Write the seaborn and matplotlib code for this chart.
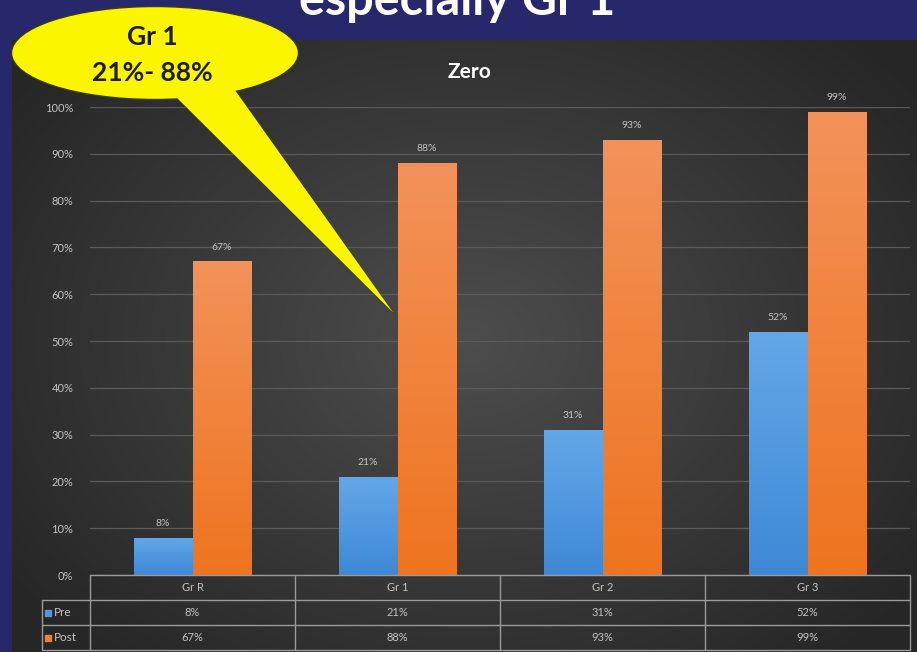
import numpy as np
import pandas as pd
import matplotlib
matplotlib.use("Agg")
import matplotlib.pyplot as plt
import seaborn as sns
from matplotlib.patches import Ellipse, Polygon
from matplotlib.colors import LinearSegmentedColormap

# ---- data ----
groups = ["Gr R", "Gr 1", "Gr 2", "Gr 3"]
series = ["Pre", "Post"]
pre = [0.08, 0.21, 0.31, 0.52]
post = [0.67, 0.88, 0.93, 0.99]
yticks = [0.0, 0.1, 0.2, 0.3, 0.4, 0.5, 0.6, 0.7, 0.8, 0.9, 1.0]
chart_title = "Zero"
slide_title = "especially Gr 1"
callout_lines = ["Gr 1", "21%- 88%"]

# ---- style ----
NAVY = "#27276b"
BLUE = "#4d97e0"
ORANGE = "#f07f35"
TEXT = "#c4c4c4"
GRID = "#5b5b5b"
TABLE_LINE = "#9a9a9a"

sns.set_theme(style="dark")
plt.rcParams["font.family"] = ["Lato", "DejaVu Sans"]

W, H = 917, 652
fig = plt.figure(figsize=(W / 100, H / 100), dpi=100, facecolor=NAVY)


def fx(px):
    return px / W


def fy(py):
    return 1 - py / H


# dark panel with a soft radial glow
panel = fig.add_axes([fx(12), 0, 1 - fx(12), fy(40)])
pw, ph = W - 12, H - 40
gx, gy = np.meshgrid(np.arange(pw), np.arange(ph))
d = np.sqrt(((gx - 455) / 560.0) ** 2 + ((gy - 300) / 430.0) ** 2)
d = np.clip(d, 0, 1)
c_in = np.array([0x4d, 0x4d, 0x4d]) / 255
c_out = np.array([0x26, 0x26, 0x26]) / 255
img = c_in[None, None, :] * (1 - d[..., None]) + c_out[None, None, :] * d[..., None]
panel.imshow(img, aspect="auto", interpolation="bilinear")
panel.set_axis_off()

# main chart axes (0%..100% spans y=575..107 px, categories span x=90..910 px)
ax = fig.add_axes([fx(90), fy(575), fx(910) - fx(90), fy(107) - fy(575)])
ax.set_facecolor("none")

df = pd.DataFrame({
    "group": groups * 2,
    "series": [series[0]] * len(groups) + [series[1]] * len(groups),
    "value": pre + post,
})
sns.barplot(data=df, x="group", y="value", hue="series", order=groups,
            hue_order=series, palette=[BLUE, ORANGE], width=0.575, gap=0,
            errorbar=None, saturation=1, legend=False, ax=ax, zorder=3)

ax.set_xlim(-0.5, len(groups) - 0.5)
ax.set_ylim(0, 1.0)

# vertical gradient fill for each bar
cmaps = {
    series[0]: LinearSegmentedColormap.from_list("pre", ["#62a8e8", "#3f88d6"]),
    series[1]: LinearSegmentedColormap.from_list("post", ["#f3925a", "#ee741f"]),
}
grad = np.linspace(0, 1, 256)[:, None]
for container, name in zip(ax.containers, series):
    for bar in container:
        x0, w, h = bar.get_x(), bar.get_width(), bar.get_height()
        bar.set_edgecolor("#3a2a22" if name == series[1] else "#2a3440")
        bar.set_linewidth(0.6)
        im = ax.imshow(grad, extent=[x0, x0 + w, 0, h], cmap=cmaps[name],
                       aspect="auto", zorder=3.5, interpolation="bilinear")
        im.set_clip_path(bar)
ax.set_xlim(-0.5, len(groups) - 0.5)
ax.set_ylim(0, 1.0)

# value labels
for container, values in zip(ax.containers, [pre, post]):
    ax.bar_label(container, labels=[f"{v:.0%}" for v in values], padding=7,
                 color=TEXT, fontsize=7.5)

# axes styling
ax.set_yticks(yticks)
ax.set_yticklabels([f"{t:.0%}" for t in yticks])
ax.yaxis.grid(True, color=GRID, linewidth=0.9)
ax.xaxis.grid(False)
ax.set_axisbelow(True)
ax.tick_params(axis="y", length=0, pad=12, labelcolor=TEXT, labelsize=8)
ax.tick_params(axis="x", length=0, labelbottom=False)
ax.set_xlabel("")
ax.set_ylabel("")
for s in ax.spines.values():
    s.set_visible(False)

# data table under the plot
ppy = 468.0  # pixels per unit on the y axis
ppx = 205.0  # pixels per category
rows = [0.0, -25 / ppy, -50 / ppy, -75 / ppy]
x_left = -0.5 + (42 - 90) / ppx
x_right = len(groups) - 0.5
line_kw = dict(color=TABLE_LINE, lw=1.0, clip_on=False, zorder=5)
ax.plot([-0.5, x_right], [rows[0]] * 2, **line_kw)
for r in rows[1:]:
    ax.plot([x_left, x_right], [r, r], **line_kw)
ax.plot([x_left, x_left], [rows[1], rows[3]], **line_kw)
for i in range(len(groups) + 1):
    xb = i - 0.5
    ax.plot([xb, xb], [rows[0], rows[3]], **line_kw)

for i, g in enumerate(groups):
    ax.text(i, (rows[0] + rows[1]) / 2, g, ha="center", va="center",
            color=TEXT, fontsize=8, clip_on=False)
    ax.text(i, (rows[1] + rows[2]) / 2, f"{pre[i]:.0%}", ha="center",
            va="center", color=TEXT, fontsize=8, clip_on=False)
    ax.text(i, (rows[2] + rows[3]) / 2, f"{post[i]:.0%}", ha="center",
            va="center", color=TEXT, fontsize=8, clip_on=False)

key_x = -0.5 + (48 - 90) / ppx
lab_x = -0.5 + (54 - 90) / ppx
for (r0, r1), name, col in zip([(rows[1], rows[2]), (rows[2], rows[3])],
                               series, [BLUE, ORANGE]):
    ym = (r0 + r1) / 2
    ax.plot([key_x], [ym], marker="s", markersize=5, color=col,
            clip_on=False, zorder=6)
    ax.text(lab_x, ym, name, ha="left", va="center", color=TEXT,
            fontsize=8.5, clip_on=False)

# titles
fig.text(fx(470), fy(72), chart_title, ha="center", va="center",
         color="white", fontsize=15, fontweight="bold")
fig.text(fx(457), fy(15), slide_title, ha="center", va="baseline",
         color="white", fontsize=35, fontweight="bold")

# callout bubble pointing at the Gr 1 Post bar
fig.canvas.draw()
overlay = fig.add_axes([0, 0, 1, 1], zorder=10)
overlay.set_xlim(0, W)
overlay.set_ylim(H, 0)
overlay.set_axis_off()
tip_disp = ax.transData.transform((1 - 0.02, 0.56))
tip = overlay.transData.inverted().transform(tip_disp)

YELLOW = "#fbf500"
EDGE = "#3a3a10"
tail = [(165, 86), (232, 86), tuple(tip)]
overlay.add_patch(Polygon(tail, closed=True, facecolor=YELLOW,
                          edgecolor=EDGE, lw=1.0))
overlay.add_patch(Ellipse((155, 53), 287, 93, facecolor=YELLOW,
                          edgecolor=EDGE, lw=1.0))
overlay.add_patch(Polygon(tail, closed=True, facecolor=YELLOW,
                          edgecolor="none"))
overlay.text(152, 37, callout_lines[0], ha="center", va="center",
             color="#1e1e10", fontsize=19, fontweight="bold")
overlay.text(152, 73, callout_lines[1], ha="center", va="center",
             color="#1e1e10", fontsize=19, fontweight="bold")

fig.savefig("out.png", dpi=100, facecolor=NAVY)
